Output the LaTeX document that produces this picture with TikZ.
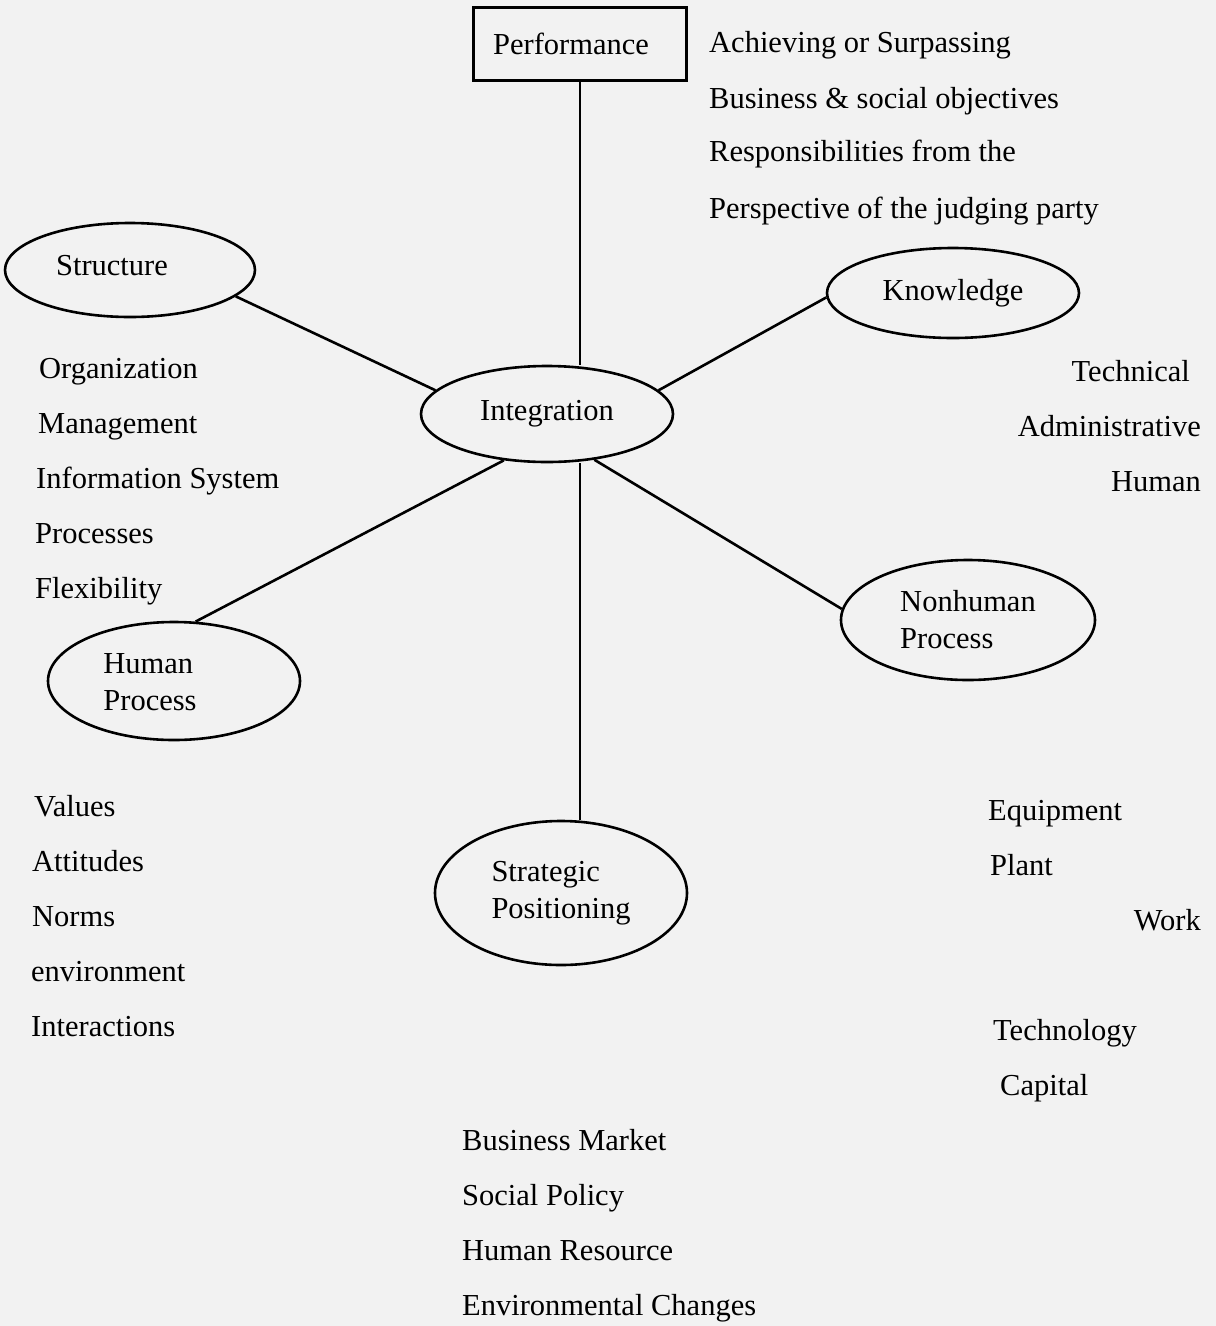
\documentclass[tikz,border=0pt]{standalone}
\usepackage{fontspec}
\setmainfont{Liberation Serif}
\usetikzlibrary{shapes.geometric}

\begin{document}
\begin{tikzpicture}[x=1pt,y=-1pt,
  every node/.style={font=\fontsize{30.5}{37}\selectfont, inner sep=0pt},
  oval/.style={draw, ellipse, line width=2.6pt},
  box/.style={draw, rectangle, line width=2.6pt},
  link/.style={line width=2.6pt}]

  \fill[black!5] (0,0) rectangle (1216,1326);
  \useasboundingbox (0,0) rectangle (1216,1326);

  \node[box, minimum width=213pt, minimum height=73pt] (perf) at (580,44) {};
  \node (perftxt) at (571,44) {Performance};

  \node[oval, minimum width=250pt, minimum height=94pt] (struct) at (130,270) {};
  \node[anchor=base] (structtxt) at (112,275) {Structure};
  \node[oval, minimum width=252pt, minimum height=90pt] (knw) at (953,293) {Knowledge};
  \node[oval, minimum width=252pt, minimum height=96pt] (integ) at (547,414) {Integration};
  \node[oval, minimum width=252pt, minimum height=118pt] (hum) at (174,681) {};
  \node[align=left] (humtxt) at (150,682) {Human\\Process};
  \node[oval, minimum width=254pt, minimum height=120pt, align=left] (nhp) at (968,620) {Nonhuman\\Process};
  \node[oval, minimum width=252pt, minimum height=144pt, align=left] (strat) at (561,893) {Strategic\\Positioning};

  \draw[link] (integ.168) -- (struct.-14);
  \draw[link] (integ.12) -- (knw.182);
  \draw[link] (integ.227) -- (hum.70);
  \draw[link] (integ.316) -- (nhp.175);
  \draw[link] (perf.south) -- (perf.south |- integ.north);
  \draw[link] (perf.south |- integ.south) -- (perf.south |- strat.north);

  % lists beside the ovals
  \foreach \yy/\txt in {52/Achieving or Surpassing, 108/Business \& social objectives,
      161/Responsibilities from the, 218/Perspective of the judging party}
    \node[anchor=base west] (goal\yy) at (709,\yy) {\txt};

  \foreach \xx/\yy/\txt in {39/378/Organization, 38/433/Management, 36/488/Information System,
      35/543/Processes, 35/598/Flexibility}
    \node[anchor=base west] (org\yy) at (\xx,\yy) {\txt};

  \foreach \xx/\yy/\txt in {34/816/Values, 32/871/Attitudes, 32/926/Norms,
      31/981/environment, 31/1036/Interactions}
    \node[anchor=base west] (val\yy) at (\xx,\yy) {\txt};

  \foreach \xx/\yy/\txt in {1190/381/Technical, 1201/436/Administrative, 1201/491/Human}
    \node[anchor=base east] (tech\yy) at (\xx,\yy) {\txt};

  \foreach \xx/\yy/\txt in {988/820/Equipment, 990/875/Plant, 993/1040/Technology, 1000/1095/Capital}
    \node[anchor=base west] (equip\yy) at (\xx,\yy) {\txt};
  \node[anchor=base east] (work) at (1201,930) {Work};

  \foreach \yy/\txt in {1150/Business Market, 1205/Social Policy,
      1260/Human Resource, 1315/Environmental Changes}
    \node[anchor=base west] (env\yy) at (462,\yy) {\txt};
\end{tikzpicture}
\end{document}
